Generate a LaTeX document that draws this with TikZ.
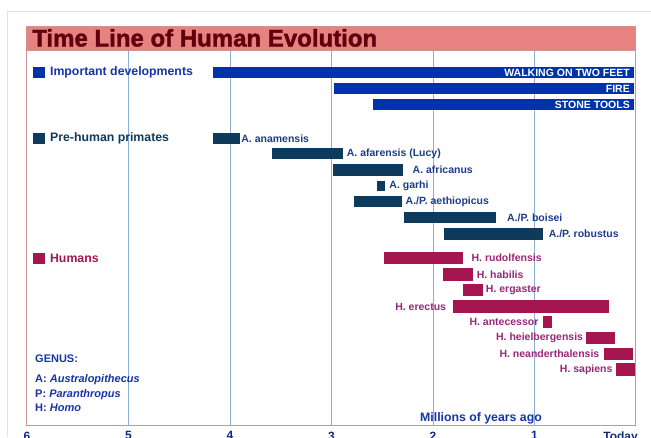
\documentclass[tikz,border=0pt]{standalone}
\usepackage{fontspec}
\setmainfont{Liberation Sans}
\newfontfamily\heavyfont{Liberation Sans Bold}[FakeBold=1.6]
\usepackage{tikz}
\usetikzlibrary{positioning}

\definecolor{devblue}{RGB}{0,51,170}
\definecolor{prenavy}{RGB}{14,58,92}
\definecolor{humred}{RGB}{165,22,80}
\definecolor{pretext}{RGB}{28,60,135}
\definecolor{humtext}{RGB}{150,40,120}
\definecolor{legblue}{RGB}{22,52,165}
\definecolor{titleband}{RGB}{230,130,128}
\definecolor{titletext}{RGB}{95,0,12}
\definecolor{framecol}{RGB}{212,145,145}
\definecolor{gridcol}{RGB}{140,175,215}
\definecolor{outergray}{RGB}{225,225,225}
\definecolor{axistext}{RGB}{20,40,125}

\begin{document}
\begin{tikzpicture}[x=-101.5pt,y=-1pt,inner sep=0pt]
\tikzstyle{gridline}=[draw=gridcol,line width=0.8pt]
\tikzstyle{devbar}=[fill=devblue]
\tikzstyle{prebar}=[fill=prenavy]
\tikzstyle{humbar}=[fill=humred]
\tikzstyle{devlab}=[font=\fontsize{10.5}{12}\selectfont\bfseries,text=white,anchor=east,xshift=-4pt]
\tikzstyle{prelab}=[font=\fontsize{10.5}{12}\selectfont\bfseries,text=pretext,anchor=west,xshift=4pt]
\tikzstyle{humright}=[font=\fontsize{10.5}{12}\selectfont\bfseries,text=humtext,anchor=west,xshift=4pt]
\tikzstyle{humleft}=[font=\fontsize{10.5}{12}\selectfont\bfseries,text=humtext,anchor=east,xshift=-4pt]
\tikzstyle{legsq}=[minimum size=11.5pt]
\tikzstyle{leglab}=[font=\fontsize{12.3}{14}\selectfont\bfseries]
\tikzstyle{genus}=[font=\fontsize{11}{13}\selectfont\bfseries,text=legblue,anchor=base west]
\tikzstyle{axislab}=[font=\fontsize{12}{14}\selectfont\bfseries,text=axistext,anchor=north]

\useasboundingbox (6.266,0) rectangle (-0.1478,437);
\draw[outergray] (6.197,437) -- (6.197,11) -- (-0.1478,11);

% frame, title and grid
\fill[titleband] (6,26) rectangle (0,50);
\foreach \t in {1,...,5}
  \draw[gridline] (\t,50) -- (\t,425);
\draw[framecol,line width=1pt] (6,26) rectangle (0,425);
\draw[framecol] (6,50) -- (0,50);
\node[anchor=base west,text=titletext,font=\fontsize{24}{26}\heavyfont] (title) at (5.95,46.5) {Time Line of Human Evolution};

% legend
\node[legsq,fill=devblue] (devsq) at (5.882,72.5) {};
\node[leglab,text=legblue,right=5pt of devsq] (devkey) {Important developments};
\node[legsq,fill=prenavy] (presq) at (5.882,138.5) {};
\node[leglab,text=prenavy,right=5pt of presq] (prekey) {Pre-human primates};
\node[legsq,fill=humred] (humsq) at (5.882,258.5) {};
\node[leglab,text=humred,right=5pt of humsq] (humkey) {Humans};

% important developments
\fill[devbar] (4.17,67) rectangle (0.02,78);
\node[devlab] (walk) at (0.02,72.5) {WALKING ON TWO FEET};
\fill[devbar] (2.98,83) rectangle (0.02,94);
\node[devlab] (fire) at (0.02,88.5) {FIRE};
\fill[devbar] (2.59,99) rectangle (0.02,110);
\node[devlab] (tools) at (0.02,104.5) {STONE TOOLS};

% pre-human primates
\fill[prebar] (4.17,133) rectangle (3.90,144);
\node[prelab,xshift=-3pt] (anam) at (3.90,138.5) {A. anamensis};
\fill[prebar] (3.59,148) rectangle (2.89,159);
\node[prelab] (afar) at (2.89,153.5) {A. afarensis (Lucy)};
\fill[prebar] (2.99,164) rectangle (2.30,176);
\node[prelab,xshift=6pt] (afri) at (2.30,170) {A. africanus};
\fill[prebar] (2.55,181) rectangle (2.47,191);
\node[prelab] (garhi) at (2.47,186) {A. garhi};
\fill[prebar] (2.78,196) rectangle (2.31,207);
\node[prelab] (aeth) at (2.31,201.5) {A./P. aethiopicus};
\fill[prebar] (2.29,212) rectangle (1.38,223);
\node[prelab,xshift=7pt] (bois) at (1.38,217.5) {A./P. boisei};
\fill[prebar] (1.89,228) rectangle (0.92,240);
\node[prelab,xshift=2pt] (robu) at (0.92,234) {A./P. robustus};

% humans
\fill[humbar] (2.48,252) rectangle (1.70,264);
\node[humright,xshift=4pt] (rudo) at (1.70,258) {H. rudolfensis};
\fill[humbar] (1.90,268) rectangle (1.61,281);
\node[humright] (habi) at (1.61,274.5) {H. habilis};
\fill[humbar] (1.70,284) rectangle (1.51,296);
\node[humright,xshift=-1pt] (erga) at (1.51,290) {H. ergaster};
\fill[humbar] (1.80,300) rectangle (0.27,313);
\node[humleft,xshift=-3pt] (erec) at (1.80,306.5) {H. erectus};
\fill[humbar] (0.92,316) rectangle (0.83,328);
\node[humleft] (ante) at (0.92,322) {H. antecessor};
\fill[humbar] (0.49,332) rectangle (0.21,344);
\node[humleft,xshift=1pt] (heid) at (0.49,338) {H. heielbergensis};
\fill[humbar] (0.32,348) rectangle (0.03,360);
\node[humleft] (nean) at (0.32,354) {H. neanderthalensis};
\fill[humbar] (0.20,363) rectangle (0.01,376);
\node[humleft,xshift=1pt] (sapi) at (0.20,369.5) {H. sapiens};

% genus key
\node[genus] (genus) at (5.921,362) {GENUS:};
\node[genus] (ga) at (5.921,382) {A: \textit{Australopithecus}};
\node[genus] (gp) at (5.921,397) {P: \textit{Paranthropus}};
\node[genus] (gh) at (5.921,411) {H: \textit{Homo}};

% axis
\node[anchor=base,text=legblue,font=\fontsize{12.3}{14}\selectfont\bfseries] (mya) at (1.527,421) {Millions of years ago};
\foreach \t in {1,...,6}
  \node[axislab] (ax\t) at (\t,431.5) {\t};
\node[axislab,anchor=north east] (today) at (-0.02,431.5) {Today};
\end{tikzpicture}
\end{document}
